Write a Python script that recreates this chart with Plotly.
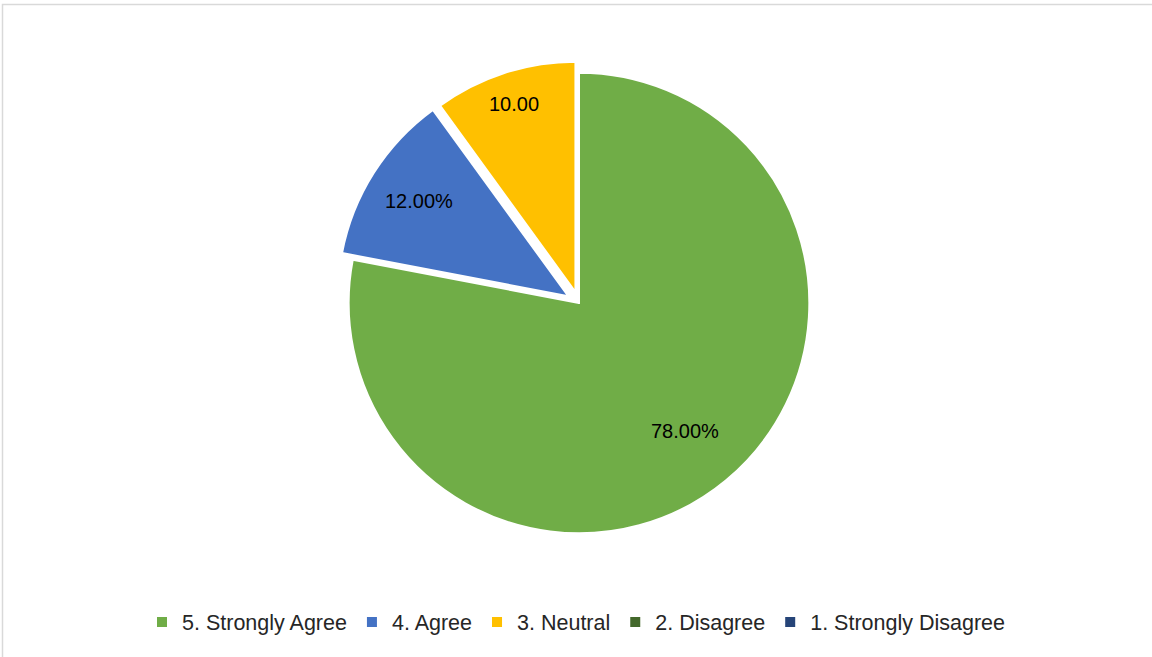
import math
import plotly.graph_objects as go

labels = ["5. Strongly Agree", "4. Agree", "3. Neutral", "2. Disagree", "1. Strongly Disagree"]
values = [78, 12, 10, 0, 0]
colors = ["#70AD47", "#4472C4", "#FFC000", "#43682B", "#264478"]
pulls = [0.0, 0.055, 0.05, 0.0, 0.0]
label_texts = ["78.00%", "12.00%", "10.00", "", ""]
label_radius = [0.72, 0.77, 0.86, 0.0, 0.0]   # radial position of data labels (fraction of r)

W, H = 1152, 657
cx, cy, half = 579, 303, 243
maxpull = max(pulls)
r = half / (1 + maxpull)

fig = go.Figure(go.Pie(
    labels=labels,
    values=values,
    sort=False,
    direction="clockwise",
    rotation=0,
    pull=pulls,
    marker=dict(colors=colors, line=dict(color="white", width=2)),
    textinfo="none",
    domain=dict(x=[(cx - half) / W, (cx + half) / W],
                y=[1 - (cy + half) / H, 1 - (cy - half) / H]),
    hoverinfo="label+percent",
))

# data labels placed along each slice bisector (Excel-style)
total = sum(values)
cum = 0.0
annotations = []
for v, p, t, k in zip(values, pulls, label_texts, label_radius):
    if v > 0 and t:
        mid = (cum + v / 2) / total * 2 * math.pi
        dist = r * (k + p)
        px = cx + dist * math.sin(mid)
        py = cy - dist * math.cos(mid)
        annotations.append(dict(x=px / W, y=1 - py / H, xref="paper", yref="paper",
                                xanchor="center", yanchor="middle",
                                text=t, showarrow=False,
                                font=dict(family="Liberation Sans, Arial", size=20, color="black")))
    cum += v

fig.update_layout(
    width=W, height=H,
    margin=dict(l=0, r=0, t=0, b=0),
    paper_bgcolor="white",
    font=dict(family="Liberation Sans, Arial", size=21.5, color="#404040"),
    showlegend=True,
    legend=dict(orientation="h", x=0.5, xanchor="center", y=1 - 622 / H, yanchor="middle",
                font=dict(size=21.5, color="#262626"), traceorder="normal"),
    annotations=annotations,
    shapes=[dict(type="rect", xref="paper", yref="paper",
                 x0=2.5 / W, x1=1.05, y0=-0.05, y1=1 - 4.5 / H,
                 line=dict(color="#d9d9d9", width=1.5))],
)

fig.write_html("out.html", config={"displayModeBar": False},
               post_script="document.body.style.margin='0';document.body.style.overflow='hidden';")
